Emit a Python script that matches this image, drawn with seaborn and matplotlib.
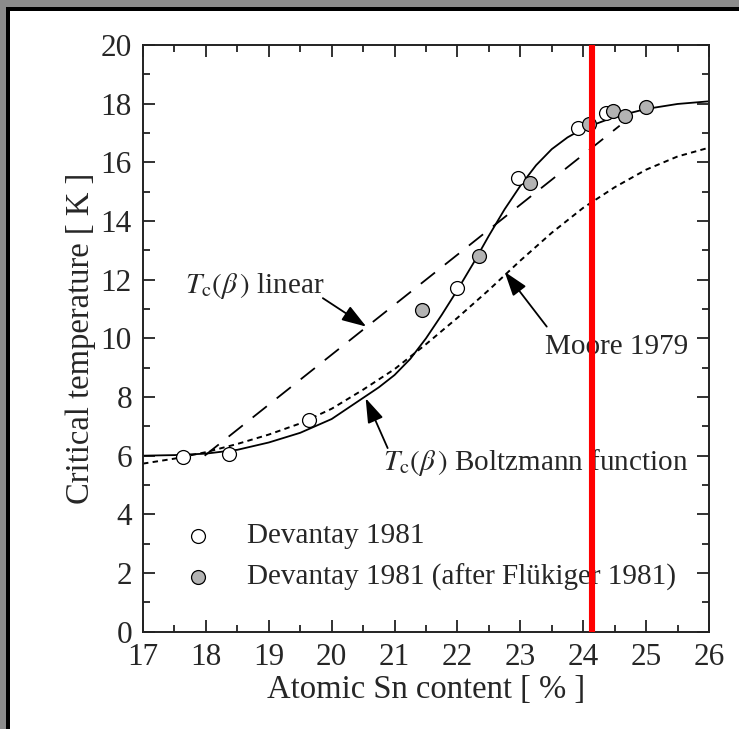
import numpy as np
import pandas as pd
import matplotlib
matplotlib.use("Agg")
import matplotlib.pyplot as plt
from matplotlib.patches import Rectangle
from matplotlib.ticker import MultipleLocator
import seaborn as sns

# ---- data ----
boltz_x = [17.0, 17.5, 18.0, 18.5, 19.0, 19.5, 20.0, 20.5, 20.75, 21.0, 21.25, 21.5, 21.75,
           22.0, 22.25, 22.5, 22.75, 23.0, 23.25, 23.5, 23.75, 24.0, 24.5, 25.0, 25.5, 26.0]
boltz_y = [6.0, 6.02, 6.07, 6.2, 6.45, 6.78, 7.25, 7.97, 8.33, 8.75, 9.3, 10.0, 10.8,
           11.65, 12.55, 13.5, 14.4, 15.2, 15.9, 16.45, 16.85, 17.15, 17.55, 17.82, 17.99, 18.08]

linear_x = [17.98, 24.58]
linear_y = [6.0, 17.25]

moore_x = [17.0, 17.5, 18.0, 18.5, 19.0, 19.5, 20.0, 20.5, 21.0, 21.5, 22.0, 22.5, 23.0,
           23.5, 24.0, 24.5, 25.0, 25.5, 26.0]
moore_y = [5.73, 5.9, 6.12, 6.4, 6.72, 7.1, 7.6, 8.25, 8.95, 9.8, 10.7, 11.65, 12.65,
           13.6, 14.45, 15.15, 15.75, 16.2, 16.5]

dev_x = [17.64, 18.37, 19.64, 21.99, 22.96, 23.92, 24.37]
dev_y = [5.97, 6.07, 7.23, 11.73, 15.47, 17.17, 17.68]

fluk_x = [21.44, 22.35, 23.16, 24.09, 24.48, 24.67, 25.0]
fluk_y = [10.97, 12.81, 15.30, 17.29, 17.76, 17.57, 17.87]

marker_x = 24.14

x_label = "Atomic Sn content [ % ]"
y_label = "Critical temperature [ K ]"
lbl_dev = "Devantay 1981"
lbl_fluk = "Devantay 1981 (after Flükiger 1981)"
txt_linear = r"$T_\mathrm{c}(\beta\,)$ linear"
txt_boltz = r"$T_\mathrm{c}(\beta\,)$ Boltzmann function"
txt_moore = "Moore 1979"

# ---- style ----
sns.set_theme(style="ticks")
plt.rcParams["font.family"] = ["Liberation Serif", "DejaVu Serif"]
plt.rcParams["mathtext.fontset"] = "stix"

FS_TICK = 22.5
FS_LABEL = 23.5
FS_TXT = 21
FS_LEG = 21

fig = plt.figure(figsize=(7.39, 7.29), dpi=100)
fig.patch.set_facecolor("#8c8c8c")

# white panel with black frame (top and left)
W, H = 739, 729
fig.add_artist(Rectangle((10 / W, 0), 1 - 10 / W, (H - 11) / H, transform=fig.transFigure,
                         facecolor="white", edgecolor="none", zorder=0))
fig.add_artist(Rectangle((6 / W, 0), 4 / W, (H - 7) / H, transform=fig.transFigure,
                         facecolor="black", edgecolor="none", zorder=0.1))
fig.add_artist(Rectangle((6 / W, (H - 11) / H), 1 - 6 / W, 4 / H, transform=fig.transFigure,
                         facecolor="black", edgecolor="none", zorder=0.1))

ax = fig.add_axes([143 / W, (H - 631.7) / H, (709 - 143) / W, (631.7 - 45) / H])
ax.set_facecolor("white")

sns.lineplot(x=boltz_x, y=boltz_y, ax=ax, color="black", lw=1.3, sort=False, estimator=None)
sns.lineplot(x=linear_x, y=linear_y, ax=ax, color="black", lw=1.3, sort=False, estimator=None,
             linestyle=(0, (10, 7)))
sns.lineplot(x=moore_x, y=moore_y, ax=ax, color="black", lw=1.4, sort=False, estimator=None,
             linestyle=(0, (2.8, 2.2)))

sns.scatterplot(x=dev_x, y=dev_y, ax=ax, s=100, facecolor="white", edgecolor="black",
                linewidth=0.9, label=lbl_dev, zorder=5)
sns.scatterplot(x=fluk_x, y=fluk_y, ax=ax, s=100, facecolor="#b3b3b3", edgecolor="black",
                linewidth=0.9, label=lbl_fluk, zorder=5)

ax.set_xlim(17, 26)
ax.set_ylim(0, 20)
ax.xaxis.set_major_locator(MultipleLocator(1))
ax.xaxis.set_minor_locator(MultipleLocator(0.5))
ax.yaxis.set_major_locator(MultipleLocator(2))
ax.yaxis.set_minor_locator(MultipleLocator(1))
ax.tick_params(which="both", direction="in", top=True, right=True, color="#222222")
ax.tick_params(which="major", length=8.5, width=1.3, labelsize=FS_TICK)
ax.tick_params(which="minor", length=5, width=1.3)
ax.tick_params(axis="x", which="major", pad=8)
ax.tick_params(axis="y", which="major", pad=8)
for sp in ax.spines.values():
    sp.set_visible(True)
    sp.set_linewidth(1.4)
    sp.set_color("#222222")

ax.set_xlabel(x_label, fontsize=FS_LABEL, labelpad=2)
ax.set_ylabel(y_label, fontsize=FS_LABEL, labelpad=3)

# annotations
arrow_kw = dict(arrowstyle="-|>,head_length=0.75,head_width=0.25", color="black", lw=1.3,
                shrinkA=0, shrinkB=0, mutation_scale=20)
ax.text(17.66, 11.8, txt_linear, fontsize=FS_TXT, ha="left", va="center")
ax.annotate("", xy=(20.55, 10.4), xytext=(19.86, 11.37), arrowprops=arrow_kw)
ax.text(23.39, 9.7, txt_moore, fontsize=FS_TXT, ha="left", va="center")
ax.annotate("", xy=(22.75, 12.27), xytext=(23.42, 10.4), arrowprops=arrow_kw)
ax.text(20.81, 5.78, txt_boltz, fontsize=FS_TXT, ha="left", va="center")
ax.annotate("", xy=(20.54, 7.96), xytext=(20.89, 6.26), arrowprops=arrow_kw)

leg = ax.legend(loc="lower left", bbox_to_anchor=(0.071, 0.07), frameon=False,
                fontsize=FS_LEG, handlelength=1.0, handletextpad=1.2, labelspacing=0.48,
                borderpad=0, borderaxespad=0)

ax.axvline(marker_x, color="#ff0000", lw=4.4, zorder=10)

fig.savefig("out.png", dpi=100, facecolor=fig.get_facecolor())
